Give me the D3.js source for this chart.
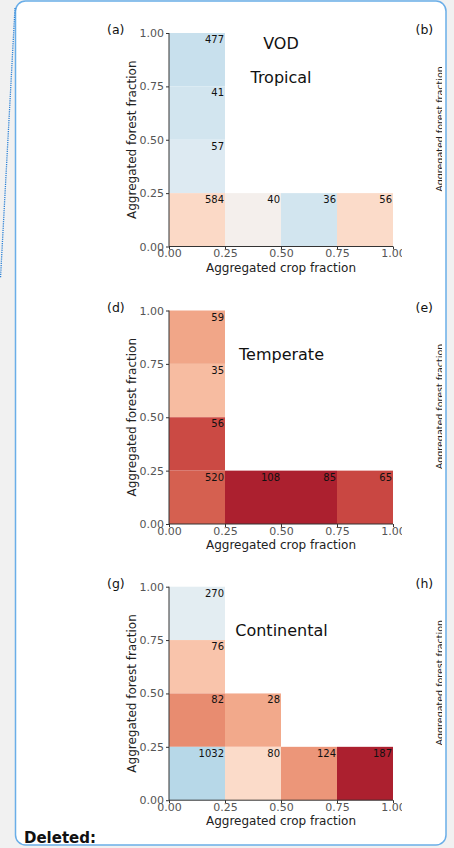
<!DOCTYPE html>
<html>
<head>
<meta charset="utf-8">
<script src="https://cdn.jsdelivr.net/npm/d3@7"></script>
<style>
  html, body { margin: 0; padding: 0; background: #f1f1f1; }
  svg { display: block; }
  text { font-family: "DejaVu Sans", sans-serif; }
</style>
</head>
<body>
<script>
// ---------------- data ----------------
const edges = [0, 0.25, 0.5, 0.75, 1];
const tickLabels = ["0.00", "0.25", "0.50", "0.75", "1.00"];
const panelLetters = ["(a)", "(d)", "(g)"];
const sideLetters = ["(b)", "(e)", "(h)"];
const regionNames = ["Tropical", "Temperate", "Continental"];
const xLabel = "Aggregated crop fraction";
const yLabel = "Aggregated forest fraction";

// cell bins: crop bin index (0-3), forest bin index (0-3)
const tropicalCrop   = [0, 0, 0, 0, 1, 2, 3];
const tropicalForest = [3, 2, 1, 0, 0, 0, 0];
const tropicalCounts = [477, 41, 57, 584, 40, 36, 56];
const tropicalValues = [-0.22, -0.18, -0.13, 0.19, 0.02, -0.18, 0.18];

const temperateCrop   = [0, 0, 0, 0, 1, 2, 3];
const temperateForest = [3, 2, 1, 0, 0, 0, 0];
const temperateCounts = [59, 35, 56, 520, 108, 85, 65];
const temperateValues = [0.39, 0.31, 0.66, 0.6, 0.8, 0.8, 0.67];

const continentalCrop   = [0, 0, 0, 1, 0, 1, 2, 3];
const continentalForest = [3, 2, 1, 1, 0, 0, 0, 0];
const continentalCounts = [270, 76, 82, 28, 1032, 80, 124, 187];
const continentalValues = [-0.1, 0.28, 0.47, 0.38, -0.28, 0.18, 0.44, 0.8];

const panels = [
  {crop: tropicalCrop, forest: tropicalForest, counts: tropicalCounts, values: tropicalValues, title: ["VOD", regionNames[0]]},
  {crop: temperateCrop, forest: temperateForest, counts: temperateCounts, values: temperateValues, title: [regionNames[1]]},
  {crop: continentalCrop, forest: continentalForest, counts: continentalCounts, values: continentalValues, title: [regionNames[2]]}
];

// ---------------- layout ----------------
const W = 454, H = 848;
const svg = d3.select("body").append("svg").attr("width", W).attr("height", H);

// page frame
svg.append("rect").attr("x", 15.5).attr("y", 1).attr("width", 430.5).attr("height", 844)
  .attr("rx", 10).attr("ry", 10)
  .attr("fill", "#ffffff").attr("stroke", "#6aaee8").attr("stroke-width", 1.5);
svg.append("line").attr("x1", 15).attr("y1", 8).attr("x2", 0.5).attr("y2", 278)
  .attr("stroke", "#2a80d6").attr("stroke-width", 1.3).attr("stroke-dasharray", "1.2,1");

const defs = svg.append("defs");
defs.append("clipPath").attr("id", "leftClip").append("rect")
  .attr("x", 0).attr("y", 0).attr("width", 402).attr("height", H);
defs.append("clipPath").attr("id", "rightClip").append("rect")
  .attr("x", 402).attr("y", 0).attr("width", 40).attr("height", H);

const color = d3.scaleDiverging([1, 0, -1], d3.interpolateRdBu);

const left = 169, right = 393;
const tops = [33, 310.5, 586.7];
const plotH = 213.5;

const leftG = svg.append("g").attr("clip-path", "url(#leftClip)");
const rightG = svg.append("g").attr("clip-path", "url(#rightClip)");

panels.forEach((p, i) => {
  const top = tops[i], bottom = top + plotH;
  const x = d3.scaleLinear().domain([0, 1]).range([left, right]);
  const y = d3.scaleLinear().domain([0, 1]).range([bottom, top]);
  const g = leftG.append("g");

  const cells = p.counts.map((c, k) => ({
    x0: edges[p.crop[k]], x1: edges[p.crop[k] + 1],
    y0: edges[p.forest[k]], y1: edges[p.forest[k] + 1],
    count: c, value: p.values[k]
  }));

  g.selectAll("rect.cell").data(cells).join("rect").attr("class", "cell")
    .attr("x", d => x(d.x0)).attr("y", d => y(d.y1))
    .attr("width", d => x(d.x1) - x(d.x0)).attr("height", d => y(d.y0) - y(d.y1))
    .attr("fill", d => color(d.value));

  g.selectAll("text.count").data(cells).join("text").attr("class", "count")
    .attr("x", d => x(d.x1) - 1).attr("y", d => y(d.y1) + 10)
    .attr("text-anchor", "end").attr("font-size", 10).attr("fill", "#111")
    .text(d => d.count);

  // axes
  const yAxis = d3.axisLeft(y).tickValues(edges).tickFormat((d, k) => tickLabels[k])
    .tickSize(3).tickPadding(2);
  const xAxis = d3.axisBottom(x).tickValues(edges).tickFormat((d, k) => tickLabels[k])
    .tickSize(3).tickPadding(0);
  const ya = g.append("g").attr("transform", `translate(${left},0)`).call(yAxis);
  const xa = g.append("g").attr("transform", `translate(0,${bottom})`).call(xAxis);
  [ya, xa].forEach(a => {
    a.select(".domain").attr("stroke", "#333").attr("stroke-width", 1);
    a.selectAll(".tick line").attr("stroke", "#333");
    a.selectAll(".tick text").attr("fill", "#555").attr("font-size", 11)
      .attr("font-family", "DejaVu Sans, sans-serif");
  });
  ya.select(".domain").attr("d", `M0,${top}V${bottom}`);
  xa.select(".domain").attr("d", `M${left},0H${right}`);

  g.append("text").attr("x", (left + right) / 2).attr("y", bottom + 25)
    .attr("text-anchor", "middle").attr("font-size", 12).attr("fill", "#222")
    .text(xLabel);
  g.append("text").attr("transform", `translate(136,${(top + bottom) / 2}) rotate(-90)`)
    .attr("text-anchor", "middle").attr("font-size", 12).attr("fill", "#222")
    .text(yLabel);

  g.append("text").attr("x", 107).attr("y", top + 1).attr("font-size", 12.5).attr("fill", "#111")
    .text(panelLetters[i]);

  // titles
  if (p.title.length === 2) {
    g.append("text").attr("x", 281).attr("y", top + 16).attr("text-anchor", "middle")
      .attr("font-size", 16).attr("fill", "#111").text(p.title[0]);
    g.append("text").attr("x", 281).attr("y", top + 49.5).attr("text-anchor", "middle")
      .attr("font-size", 16).attr("fill", "#111").text(p.title[1]);
  } else {
    g.append("text").attr("x", 281.5).attr("y", top + 49).attr("text-anchor", "middle")
      .attr("font-size", 16).attr("fill", "#111").text(p.title[0]);
  }

  // partially visible neighbouring panel
  rightG.append("text").attr("x", 415.5).attr("y", top + 1).attr("font-size", 12.5).attr("fill", "#111")
    .text(sideLetters[i]);
  rightG.append("text").attr("transform", `translate(443,${top + 96}) rotate(-90)`)
    .attr("text-anchor", "middle").attr("font-size", 9.5).attr("fill", "#222")
    .text(yLabel);
});

svg.append("text").attr("x", 24).attr("y", 843).attr("font-size", 15).attr("font-weight", "bold")
  .attr("font-family", "Liberation Sans, Arial, sans-serif")
  .attr("fill", "#111").text("Deleted:");
</script>
</body>
</html>
